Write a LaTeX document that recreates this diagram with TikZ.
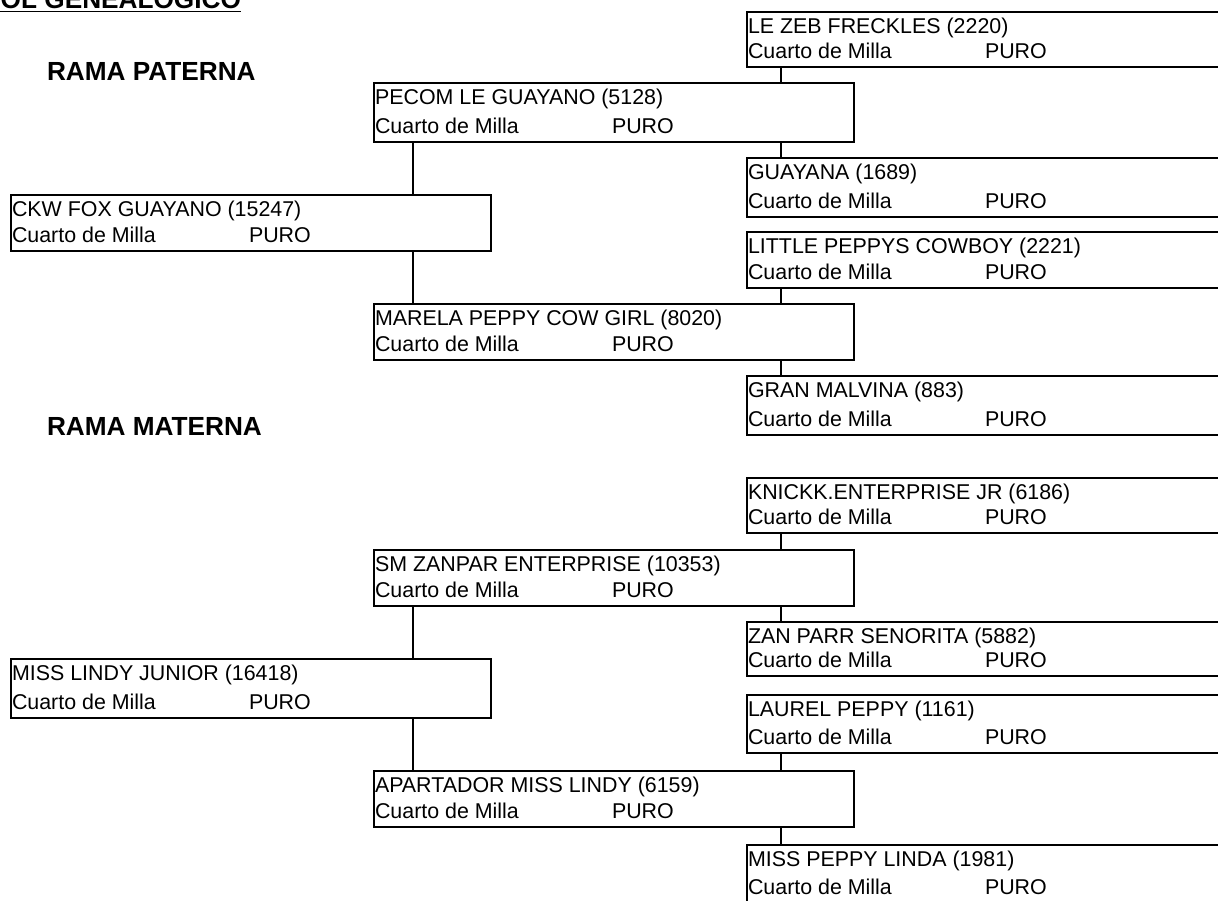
\documentclass[tikz,border=0pt]{standalone}
\usepackage{fontspec}
\setmainfont{Liberation Sans}
\usepackage{tikz}
\tikzset{
  caja/.style={draw, line width=1pt, rectangle, anchor=north west, inner sep=0pt, outer sep=0pt, minimum width=240pt},
  nombre/.style={anchor=base west, inner sep=0pt, font=\fontsize{10.7}{13}\selectfont},
  titulo/.style={anchor=base west, inner sep=0pt, font=\fontsize{13.1}{16}\selectfont\bfseries}
}

\begin{document}
\begin{tikzpicture}[x=0.5pt,y=-0.5pt,line width=1pt]
\def\caballo#1#2#3#4#5{%
  \node[caja, minimum height=#4*0.5pt] (#1) at (#2,#3) {};
  \node[nombre] (#1-n) at ([yshift=-10.5pt]#1.north west) {#5};
  \node[nombre] (#1-r) at ([yshift=4.5pt]#1.south west) {Cuarto de Milla};
  \node[nombre] (#1-p) at ([xshift=118.5pt,yshift=4.5pt]#1.south west) {PURO};
}
  \useasboundingbox (0,0) rectangle (1218,900);
  \clip (0,0) rectangle (1218,900);
  \node[titulo] (arbol) at (-57,8) {\underline{ARBOL GENEALOGICO}};
  \node[titulo] (paterna) at (46,80) {RAMA PATERNA};
  \node[titulo] (materna) at (46,435) {RAMA MATERNA};
  % rama paterna
  \caballo{lezeb}{747}{12}{55}{LE ZEB FRECKLES (2220)}
  \caballo{pecom}{374}{83}{59}{PECOM LE GUAYANO (5128)}
  \caballo{guayana}{747}{158}{59}{GUAYANA (1689)}
  \caballo{ckw}{11}{195}{56}{CKW FOX GUAYANO (15247)}
  \caballo{little}{747}{232}{56}{LITTLE PEPPYS COWBOY (2221)}
  \caballo{marela}{374}{304}{56}{MARELA PEPPY COW GIRL (8020)}
  \caballo{malvina}{747}{376}{59}{GRAN MALVINA (883)}
  % rama materna
  \caballo{knickk}{747}{478}{55}{KNICKK.ENTERPRISE JR (6186)}
  \caballo{zanpar}{374}{550}{56}{SM ZANPAR ENTERPRISE (10353)}
  \caballo{zanparr}{747}{622}{54}{ZAN PARR SENORITA (5882)}
  \caballo{misslindy}{11}{659}{59}{MISS LINDY JUNIOR (16418)}
  \caballo{laurel}{747}{695}{58}{LAUREL PEPPY (1161)}
  \caballo{apartador}{374}{771}{56}{APARTADOR MISS LINDY (6159)}
  \caballo{misspeppy}{747}{845}{58}{MISS PEPPY LINDA (1981)}
  \coordinate (c1) at (413,0);
  \coordinate (c2) at (781,0);
  \draw (lezeb.south -| c2) -- (pecom.north -| c2)
        (pecom.south -| c2) -- (guayana.north -| c2)
        (little.south -| c2) -- (marela.north -| c2)
        (marela.south -| c2) -- (malvina.north -| c2)
        (pecom.south -| c1) -- (ckw.north -| c1)
        (ckw.south -| c1) -- (marela.north -| c1);
  \draw (knickk.south -| c2) -- (zanpar.north -| c2)
        (zanpar.south -| c2) -- (zanparr.north -| c2)
        (laurel.south -| c2) -- (apartador.north -| c2)
        (apartador.south -| c2) -- (misspeppy.north -| c2)
        (zanpar.south -| c1) -- (misslindy.north -| c1)
        (misslindy.south -| c1) -- (apartador.north -| c1);
\end{tikzpicture}
\end{document}
